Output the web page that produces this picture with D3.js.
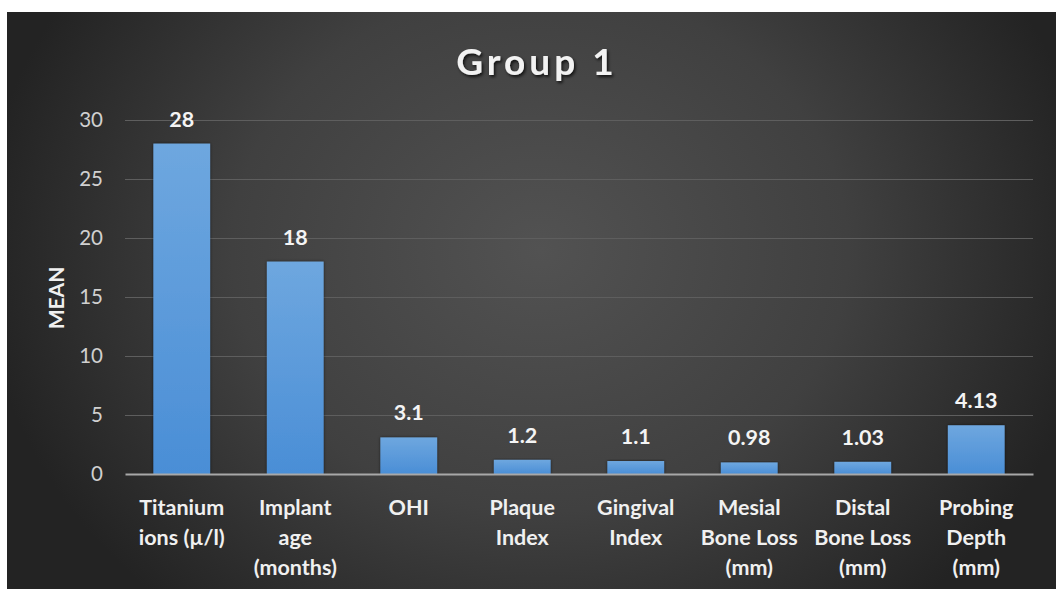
<!DOCTYPE html>
<html>
<head>
<meta charset="utf-8">
<script src="https://cdn.jsdelivr.net/npm/d3@7"></script>
<style>
  html, body { margin: 0; padding: 0; background: #ffffff; }
  svg { display: block; }
</style>
</head>
<body>
<svg id="chart" width="1056" height="589"></svg>
<script>
// Group 1 mean values per measured parameter
const categories = [
  "Titanium\nions (µ/l)",
  "Implant\nage\n(months)",
  "OHI",
  "Plaque\nIndex",
  "Gingival\nIndex",
  "Mesial\nBone Loss\n(mm)",
  "Distal\nBone Loss\n(mm)",
  "Probing\nDepth\n(mm)"
];
const values = [28, 18, 3.1, 1.2, 1.1, 0.98, 1.03, 4.13];
const valueLabels = ["28", "18", "3.1", "1.2", "1.1", "0.98", "1.03", "4.13"];
const yTicks = [0, 5, 10, 15, 20, 25, 30];
const title = "Group 1";
const yTitle = "MEAN";

const W = 1056, H = 589;
const svg = d3.select("#chart");
const defs = svg.append("defs");

// Dark panel with a soft light centre
const bg = defs.append("radialGradient")
  .attr("id", "bgGrad")
  .attr("gradientUnits", "userSpaceOnUse")
  .attr("cx", 540).attr("cy", 250).attr("r", 560)
  .attr("gradientTransform", "translate(540,250) scale(1,0.85) translate(-540,-250)");
bg.append("stop").attr("offset", "0%").attr("stop-color", "#525252");
bg.append("stop").attr("offset", "55%").attr("stop-color", "#404040");
bg.append("stop").attr("offset", "100%").attr("stop-color", "#232323");

const barGrad = defs.append("linearGradient")
  .attr("id", "barGrad").attr("x1", 0).attr("y1", 0).attr("x2", 0).attr("y2", 1);
barGrad.append("stop").attr("offset", "0%").attr("stop-color", "#6ea7df");
barGrad.append("stop").attr("offset", "100%").attr("stop-color", "#4a8ed6");

const shadow = defs.append("filter").attr("id", "titleShadow")
  .attr("x", "-10%").attr("y", "-30%").attr("width", "130%").attr("height", "170%");
shadow.append("feDropShadow")
  .attr("dx", 1.5).attr("dy", 2).attr("stdDeviation", 1.5)
  .attr("flood-color", "#000").attr("flood-opacity", 0.75);

const barShadow = defs.append("filter").attr("id", "barShadow")
  .attr("x", "-20%").attr("y", "-10%").attr("width", "140%").attr("height", "120%");
barShadow.append("feDropShadow")
  .attr("dx", 0).attr("dy", 0).attr("stdDeviation", 1.5)
  .attr("flood-color", "#000").attr("flood-opacity", 0.6);

svg.append("rect")
  .attr("x", 7).attr("y", 12).attr("width", W - 7).attr("height", H - 12)
  .attr("fill", "url(#bgGrad)");

const font = "Lato, 'Open Sans', sans-serif";

const x = d3.scaleBand()
  .domain(categories)
  .range([125, 1033])
  .paddingInner(0.5)
  .paddingOuter(0.25);

const y = d3.scaleLinear()
  .domain([0, 30])
  .range([474, 120]);

// Gridlines and y tick labels
const yAxis = d3.axisLeft(y)
  .tickValues(yTicks)
  .tickSize(-(1033 - 125))
  .tickPadding(22)
  .tickFormat(d3.format("d"));

const gy = svg.append("g")
  .attr("transform", "translate(125,0)")
  .call(yAxis);
gy.select(".domain").remove();
gy.selectAll(".tick line")
  .attr("stroke", "#5e5e5e")
  .attr("stroke-width", 1)
  .filter(d => d === 0).remove();
gy.selectAll(".tick text")
  .attr("fill", "#d0d0d0")
  .attr("font-family", font)
  .attr("font-size", 20.5)
  .attr("font-weight", 400);

// Bars
svg.append("g").selectAll("rect")
  .data(values)
  .join("rect")
  .attr("x", (d, i) => x(categories[i]))
  .attr("y", d => y(d))
  .attr("width", x.bandwidth())
  .attr("height", d => y(0) - y(d))
  .attr("fill", "url(#barGrad)")
  .attr("filter", "url(#barShadow)");

// Category axis baseline
const xAxis = d3.axisBottom(x).tickSize(0).tickFormat("");
const gx = svg.append("g")
  .attr("transform", `translate(0,${y(0)})`)
  .call(xAxis);
gx.select(".domain")
  .attr("stroke", "#a8a8a8")
  .attr("stroke-width", 2);

// Category labels (multi-line)
const catG = svg.append("g");
categories.forEach(c => {
  const lines = c.split("\n");
  const t = catG.append("text")
    .attr("text-anchor", "middle")
    .attr("font-family", font)
    .attr("font-size", 21.5)
    .attr("font-weight", 700)
    .attr("fill", "#f0f0f0");
  lines.forEach((ln, j) => {
    t.append("tspan")
      .attr("x", x(c) + x.bandwidth() / 2)
      .attr("y", y(0) + 41 + j * 30)
      .text(ln);
  });
});

// Value labels above bars
svg.append("g").selectAll("text")
  .data(values)
  .join("text")
  .attr("x", (d, i) => x(categories[i]) + x.bandwidth() / 2)
  .attr("y", d => y(d) - 17)
  .attr("text-anchor", "middle")
  .attr("font-family", font)
  .attr("font-size", 21.5)
  .attr("font-weight", 700)
  .attr("fill", "#f4f4f4")
  .text((d, i) => valueLabels[i]);

// Y axis title
svg.append("text")
  .attr("transform", "translate(64,298) rotate(-90)")
  .attr("text-anchor", "middle")
  .attr("font-family", font)
  .attr("font-size", 21)
  .attr("font-weight", 700)
  .attr("fill", "#f0f0f0")
  .text(yTitle);

// Chart title
svg.append("text")
  .attr("x", 537)
  .attr("y", 75)
  .attr("text-anchor", "middle")
  .attr("font-family", font)
  .attr("font-size", 37)
  .attr("font-weight", 700)
  .attr("letter-spacing", 4)
  .attr("fill", "#f2f2f2")
  .attr("filter", "url(#titleShadow)")
  .text(title);
</script>
</body>
</html>
